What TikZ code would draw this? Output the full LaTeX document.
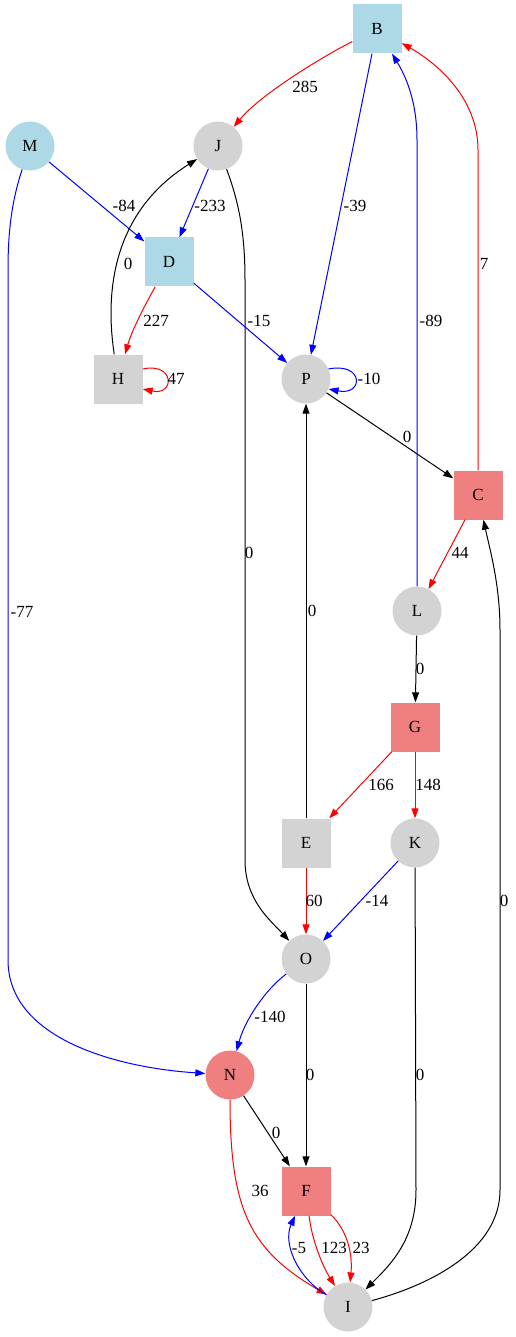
\documentclass[tikz,border=0pt]{standalone}
\usepackage{fontspec}
\setmainfont{Liberation Serif}
\usetikzlibrary{arrows.meta}
\definecolor{nblue}{HTML}{ADD8E6}
\definecolor{ngray}{HTML}{D3D3D3}
\definecolor{ncoral}{HTML}{F08080}

\begin{document}
\begin{tikzpicture}[x=1pt,y=-1pt,font=\fontsize{17}{20}\selectfont,
  sq/.style={rectangle,minimum size=49pt,inner sep=0pt},
  rd/.style={circle,minimum size=49pt,inner sep=0pt},
  arr/.style={line width=1pt,-{Triangle[length=10pt,width=7pt]}},
  redge/.style={arr,red},
  bedge/.style={arr,blue},
  kedge/.style={arr,black},
  lbl/.style={inner sep=0pt}]
  \useasboundingbox (0,0) rectangle (515,1337);

  % nodes
  \node[sq,fill=nblue]  (B) at (377,29)   {B};
  \node[rd,fill=nblue]  (M) at (30,146)   {M};
  \node[rd,fill=ngray]  (J) at (218,146)  {J};
  \node[sq,fill=nblue]  (D) at (169,262)  {D};
  \node[sq,fill=ngray]  (H) at (118,379)  {H};
  \node[rd,fill=ngray]  (P) at (306,379)  {P};
  \node[sq,fill=ncoral] (C) at (478,495)  {C};
  \node[rd,fill=ngray]  (L) at (417,611)  {L};
  \node[sq,fill=ncoral] (G) at (415,727)  {G};
  \node[sq,fill=ngray]  (E) at (306,843)  {E};
  \node[rd,fill=ngray]  (K) at (415,843)  {K};
  \node[rd,fill=ngray]  (O) at (306,959)  {O};
  \node[rd,fill=ncoral] (N) at (230,1075) {N};
  \node[sq,fill=ncoral] (F) at (306,1191) {F};
  \node[rd,fill=ngray]  (I) at (348,1307) {I};

  % edges
  \draw[redge] (B) .. controls (320,58) and (260,95) .. (J);
  \draw[bedge] (B) -- (P);
  \draw[bedge] (L) -- (417,140) .. controls (417,100) and (405,75) .. (B);
  \draw[redge] (C) -- (478,150) .. controls (478,100) and (440,65) .. (B);
  \draw[bedge] (M) -- (D);
  \draw[bedge] (M) .. controls (12,200) and (8,230) .. (8,270) -- (8,960)
               .. controls (8,1040) and (120,1068) .. (N);
  \draw[bedge] (J) -- (D);
  \draw[kedge] (J) .. controls (238,200) and (245,230) .. (245,280) -- (245,860)
               .. controls (245,900) and (270,920) .. (O);
  \draw[kedge] (H) .. controls (106,300) and (108,215) .. (J);
  \draw[redge] (D) .. controls (145,305) and (132,330) .. (H);
  \draw[bedge] (D) -- (P);
  \draw[redge] (H.22) .. controls (175,362) and (175,396) .. (H.-22);
  \draw[bedge] (P.24) .. controls (364,362) and (364,396) .. (P.-24);
  \draw[kedge] (P) -- (C);
  \draw[kedge] (E) -- (P);
  \draw[redge] (C) -- (L);
  \draw[kedge] (L) -- (G);
  \draw[redge] (G) -- (E);
  \draw[redge] (G) -- (K);
  \draw[redge] (E) -- (O);
  \draw[bedge] (K) -- (O);
  \draw[kedge] (K) -- (416,1190) .. controls (416,1240) and (390,1265) .. (I);
  \draw[kedge] (I) .. controls (430,1285) and (500,1250) .. (500,1190) -- (500,630)
               .. controls (500,585) and (490,550) .. (C);
  \draw[bedge] (O) .. controls (265,990) and (245,1020) .. (N);
  \draw[kedge] (O) -- (F);
  \draw[kedge] (N) -- (F);
  \draw[redge] (N) .. controls (230,1210) and (250,1250) .. (I);
  \draw[redge] (F) .. controls (312,1240) and (322,1265) .. (I);
  \draw[redge] (F) .. controls (345,1228) and (353,1250) .. (I);
  \draw[bedge] (I) .. controls (300,1280) and (282,1245) .. (F);

  % edge labels
  \node[lbl] (lBJ) at (305,87)   {285};
  \node[lbl] (lBP) at (355,206)  {-39};
  \node[lbl] (lMD) at (124,206)  {-84};
  \node[lbl] (lJD) at (210,206)  {-233};
  \node[lbl] (lHJ) at (128,264)  {0};
  \node[lbl] (lCB) at (484,264)  {7};
  \node[lbl] (lDH) at (156,321)  {227};
  \node[lbl] (lDP) at (259,321)  {-15};
  \node[lbl] (lLB) at (431,321)  {-89};
  \node[lbl] (lHH) at (176,379)  {47};
  \node[lbl] (lPP) at (369,379)  {-10};
  \node[lbl] (lPC) at (407,437)  {0};
  \node[lbl] (lJO) at (249,553)  {0};
  \node[lbl] (lCL) at (460,553)  {44};
  \node[lbl] (lEP) at (312,611)  {0};
  \node[lbl] (lMN) at (22,612)   {-77};
  \node[lbl] (lLG) at (420,669)  {0};
  \node[lbl] (lGE) at (381,785)  {166};
  \node[lbl] (lGK) at (428,785)  {148};
  \node[lbl] (lEO) at (314,901)  {60};
  \node[lbl] (lKO) at (377,901)  {-14};
  \node[lbl] (lIC) at (504,901)  {0};
  \node[lbl] (lON) at (270,1017) {-140};
  \node[lbl] (lOF) at (310,1075) {0};
  \node[lbl] (lKI) at (420,1075) {0};
  \node[lbl] (lNF) at (276,1133) {0};
  \node[lbl] (lNI) at (260,1191) {36};
  \node[lbl] (lIF) at (299,1248) {-5};
  \node[lbl] (lFI) at (334,1248) {123};
  \node[lbl] (lFIb) at (361,1248) {23};
\end{tikzpicture}
\end{document}
